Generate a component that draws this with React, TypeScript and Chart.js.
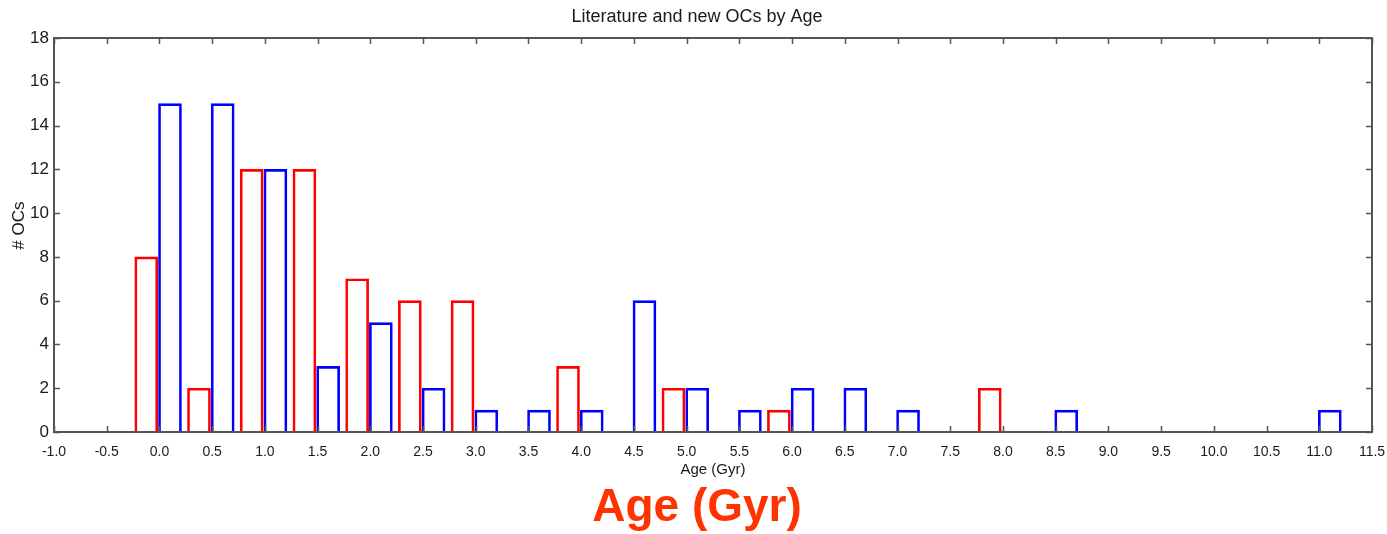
import React, { useEffect, useRef } from "react";
import { Chart, registerables } from "chart.js";

Chart.register(...registerables);

// Bin start ages (Gyr) and counts
const redBins = [-0.25, 0.25, 0.75, 1.25, 1.75, 2.25, 2.75, 3.75, 4.75, 5.75, 7.75];
const redCounts = [8, 2, 12, 12, 7, 6, 6, 3, 2, 1, 2];
const blueBins = [0.0, 0.5, 1.0, 1.5, 2.0, 2.5, 3.0, 3.5, 4.0, 4.5, 5.0, 5.5, 6.0, 6.5, 7.0, 8.5, 11.0];
const blueCounts = [15, 15, 12, 3, 5, 2, 1, 1, 1, 6, 2, 1, 2, 2, 1, 1, 1];

const titleText = "Literature and new OCs by Age";
const xTitle = "Age (Gyr)";
const yTitle = "# OCs";
const bigLabel = "Age (Gyr)";
const xMin = -1.0;
const xMax = 11.5;
const xStep = 0.5;
const yMin = 0;
const yMax = 18;
const yStep = 2;

const RED_OFFSET = 0.125;
const BLUE_OFFSET = 0.1;

const FONT = "'Liberation Sans', Arial, Helvetica, sans-serif";

const framePlugin = {
  id: "frame",
  afterDatasetsDraw(chart: any) {
    const { ctx, chartArea, scales } = chart;
    const { left, right, top, bottom } = chartArea;
    const x = scales.x;
    const y = scales.y;
    ctx.save();
    ctx.strokeStyle = "#555555";
    ctx.lineWidth = 2;
    ctx.strokeRect(left, top, right - left, bottom - top);
    ctx.beginPath();
    ctx.lineWidth = 1.5;
    const tl = 6;
    x.ticks.forEach((t: any) => {
      const px = Math.round(x.getPixelForValue(t.value)) + 0.5;
      ctx.moveTo(px, bottom);
      ctx.lineTo(px, bottom - tl);
      ctx.moveTo(px, top);
      ctx.lineTo(px, top + tl);
    });
    y.ticks.forEach((t: any) => {
      const py = Math.round(y.getPixelForValue(t.value)) + 0.5;
      ctx.moveTo(left, py);
      ctx.lineTo(left + tl, py);
      ctx.moveTo(right, py);
      ctx.lineTo(right - tl, py);
    });
    ctx.stroke();
    ctx.restore();
  },
};

export default function App() {
  const ref = useRef<HTMLCanvasElement | null>(null);

  useEffect(() => {
    document.body.style.margin = "0";
    if (!ref.current) return;
    const chart = new Chart(ref.current, {
      type: "bar",
      data: {
        datasets: [
          {
            label: "Literature",
            data: redBins.map((b, i) => ({ x: b + RED_OFFSET, y: redCounts[i] })),
            borderColor: "#ff0000",
            backgroundColor: "rgba(255,255,255,0)",
            borderWidth: 2,
            barThickness: 23,
            grouped: false,
          } as any,
          {
            label: "New",
            data: blueBins.map((b, i) => ({ x: b + BLUE_OFFSET, y: blueCounts[i] })),
            borderColor: "#0000ff",
            backgroundColor: "rgba(255,255,255,0)",
            borderWidth: 2,
            barThickness: 23,
            grouped: false,
          } as any,
        ],
      },
      options: {
        animation: false,
        responsive: false,
        layout: { padding: { left: 22, right: 15, top: 0, bottom: 0 } },
        plugins: {
          legend: { display: false },
          tooltip: { enabled: false },
          title: {
            display: true,
            text: titleText,
            color: "#1a1a1a",
            font: { family: FONT, size: 18, weight: "normal", lineHeight: 1.2 },
            padding: { top: 6, bottom: 10.4 },
          },
          subtitle: {
            display: true,
            position: "bottom",
            text: bigLabel,
            color: "#ff3300",
            font: { family: FONT, size: 46, weight: "bold", lineHeight: 1 },
            padding: { top: 0, bottom: 3 },
          },
        },
        scales: {
          x: {
            type: "linear",
            min: xMin,
            max: xMax,
            offset: false,
            grid: { display: false, drawTicks: false },
            border: { display: false },
            ticks: {
              stepSize: xStep,
              autoSkip: false,
              maxRotation: 0,
              minRotation: 0,
              padding: 12,
              color: "#1a1a1a",
              font: { family: FONT, size: 14 },
              callback: (v: any) => Number(v).toFixed(1),
            },
            title: {
              display: true,
              text: xTitle,
              color: "#1a1a1a",
              font: { family: FONT, size: 15 },
              padding: { top: 0, bottom: 6 },
            },
            afterFit: (s: any) => {
              s.height = 53;
              s.paddingLeft = 0;
              s.paddingRight = 0;
            },
          },
          y: {
            min: yMin,
            max: yMax,
            grid: { display: false, drawTicks: false },
            border: { display: false },
            ticks: {
              stepSize: yStep,
              padding: 5,
              color: "#1a1a1a",
              font: { family: FONT, size: 17 },
            },
            title: {
              display: true,
              text: "    " + yTitle,
              color: "#1a1a1a",
              font: { family: FONT, size: 17 },
              padding: { top: -13, bottom: 0 },
            },
            afterFit: (s: any) => {
              s.width = 32;
              s.paddingTop = 0;
              s.paddingBottom = 0;
            },
          },
        },
      } as any,
      plugins: [framePlugin],
    });
    return () => chart.destroy();
  }, []);

  return (
    <div style={{ position: "fixed", left: 0, top: 0, width: 1387, height: 534, background: "#fff" }}>
      <canvas ref={ref} width={1387} height={534} style={{ width: 1387, height: 534, display: "block" }} />
    </div>
  );
}
